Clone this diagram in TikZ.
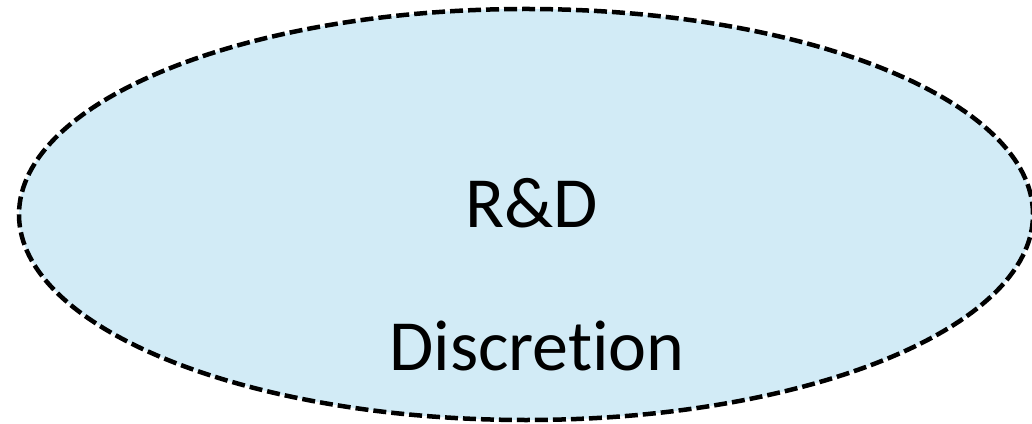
\documentclass[tikz,border=0pt]{standalone}
\usepackage{fontspec}
\setmainfont{Carlito}[Ligatures={NoCommon}]
\usetikzlibrary{shapes.geometric}
\definecolor{fillblue}{RGB}{210,235,246}
\tikzset{
  bubble/.style={ellipse, draw=black, fill=fillblue, line width=4.5pt,
    dash pattern=on 13pt off 5pt, inner sep=0pt},
  label/.style={font=\fontsize{72}{86}\selectfont, anchor=base, inner sep=0pt}
}
\begin{document}
\begin{tikzpicture}[x=1pt,y=1pt]
\useasboundingbox (0,0) rectangle (1032,423);
\node[bubble, minimum width=1014pt, minimum height=411pt] (e) at (526,208.5) {};
\node[label] (rd) at (532,195) {R\&D};
\node[label] (disc) at (537,53) {Discretion};
\end{tikzpicture}
\end{document}
